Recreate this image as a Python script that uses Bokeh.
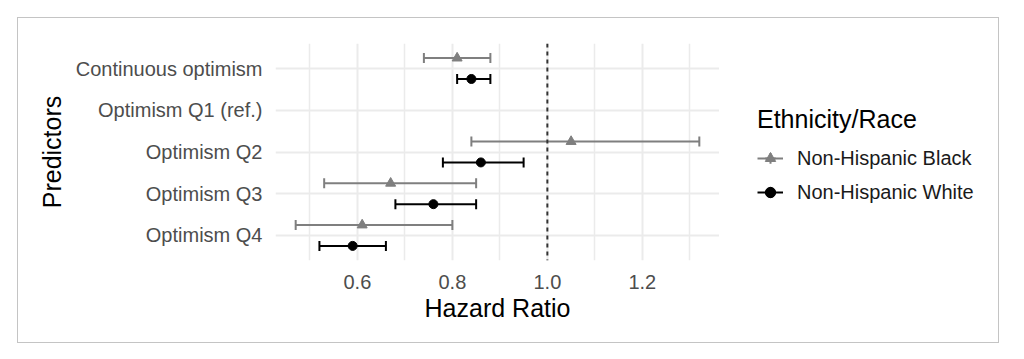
import math
import numpy as np
from bokeh.plotting import figure
from bokeh.layouts import row
from bokeh.models import (Range1d, FixedTicker, Span, Legend, LegendItem,
                          ColumnDataSource, NumeralTickFormatter)
from bokeh.embed import file_html
from bokeh.resources import INLINE

# ---------------- data ----------------
categories = ["Continuous optimism", "Optimism Q1 (ref.)", "Optimism Q2",
              "Optimism Q3", "Optimism Q4"]
groups = ["Non-Hispanic Black", "Non-Hispanic White"]

black_hr = [0.81, float("nan"), 1.05, 0.67, 0.61]
black_lo = [0.74, float("nan"), 0.84, 0.53, 0.47]
black_hi = [0.88, float("nan"), 1.32, 0.85, 0.80]

white_hr = [0.84, float("nan"), 0.86, 0.76, 0.59]
white_lo = [0.81, float("nan"), 0.78, 0.68, 0.52]
white_hi = [0.88, float("nan"), 0.95, 0.85, 0.66]

x_ticks = [0.6, 0.8, 1.0, 1.2]
x_minor = [0.5, 0.7, 0.9, 1.1, 1.3]
ref_line = 1.0

# ---------------- style ----------------
FONT = "Liberation Sans"
colors = ["#7f7f7f", "#000000"]
markers = ["triangle", "circle"]
marker_sizes = [10, 9]
dodge = 0.25
cap = 0.12

n = len(categories)
ypos = [n - i for i in range(n)]

vals = [v for v in black_lo + black_hi + white_lo + white_hi if not math.isnan(v)]
lo, hi = min(vals), max(vals)
pad = (hi - lo) * 0.05

p = figure(width=701, height=324,
           x_range=Range1d(lo - pad, hi + pad),
           y_range=Range1d(0.4, n + 0.6),
           output_backend="svg", toolbar_location=None,
           min_border_left=257, min_border_right=0,
           min_border_top=25, min_border_bottom=82)
p.outline_line_color = None
p.background_fill_color = "white"
p.border_fill_color = "white"

# axes
p.xaxis.ticker = FixedTicker(ticks=x_ticks, minor_ticks=x_minor)
p.xaxis.formatter = NumeralTickFormatter(format="0.0")
p.yaxis.ticker = FixedTicker(ticks=ypos)
p.yaxis.major_label_overrides = {y: c for y, c in zip(ypos, categories)}

for ax in (p.xaxis[0], p.yaxis[0]):
    ax.axis_line_color = None
    ax.major_tick_line_color = None
    ax.minor_tick_line_color = None
    ax.major_tick_in = 0
    ax.major_tick_out = 0
    ax.major_label_text_font = FONT
    ax.major_label_text_font_size = "20px"
    ax.major_label_text_color = "#4d4d4d"
    ax.axis_label_text_font = FONT
    ax.axis_label_text_font_size = "25px"
    ax.axis_label_text_font_style = "normal"
    ax.axis_label_text_color = "#000000"

p.xaxis.axis_label = "Hazard Ratio"
p.yaxis.axis_label = "Predictors"
p.xaxis.major_label_standoff = 10
p.xaxis.axis_label_standoff = 2
p.yaxis.major_label_standoff = 13
p.yaxis.axis_label_standoff = 7

# grids
p.xgrid.grid_line_color = "#ebebeb"
p.xgrid.grid_line_width = 2
p.xgrid.minor_grid_line_color = "#ebebeb"
p.xgrid.minor_grid_line_width = 1.5
p.ygrid.grid_line_color = "#ebebeb"
p.ygrid.grid_line_width = 2

# reference line
p.add_layout(Span(location=ref_line, dimension="height", line_color="#333333",
                  line_width=2, line_dash="4 4"))

# legend panel (separate canvas; its ranges keep the key renderers' data out of view)
pl = figure(width=279, height=324, x_range=Range1d(0, 1), y_range=Range1d(-2, -1),
            output_backend="svg", toolbar_location=None,
            x_axis_location=None, y_axis_location=None,
            min_border_left=0, min_border_right=0,
            min_border_top=0, min_border_bottom=0)
pl.grid.visible = False
pl.outline_line_color = None
pl.background_fill_color = "white"
pl.border_fill_color = "white"

# data marks
series = [(black_hr, black_lo, black_hi, +dodge), (white_hr, white_lo, white_hi, -dodge)]
legend_items = []
for (hr, lo_, hi_, off), col, mk, ms, name in zip(series, colors, markers, marker_sizes, groups):
    y = np.array(ypos, dtype=float) + off
    src = ColumnDataSource(dict(
        hr=np.array(hr, dtype=float), lo=np.array(lo_, dtype=float),
        hi=np.array(hi_, dtype=float), y=y, yb=y - cap, yt=y + cap))
    p.segment(x0="lo", y0="y", x1="hi", y1="y", source=src, line_color=col, line_width=2)
    p.segment(x0="lo", y0="yb", x1="lo", y1="yt", source=src, line_color=col, line_width=2)
    p.segment(x0="hi", y0="yb", x1="hi", y1="yt", source=src, line_color=col, line_width=2)
    p.scatter(x="hr", y="y", source=src, marker=mk, size=ms, fill_color=col, line_color=col)

    # legend key renderers (same data, drawn on the legend canvas outside its view)
    k_seg = pl.segment(x0="lo", y0="y", x1="hi", y1="y", source=src,
                       line_color=col, line_width=2)
    k_cross = pl.scatter(x="hr", y="y", source=src, marker="cross",
                         line_color=col, line_width=2)
    k_pt = pl.scatter(x="hr", y="y", source=src, marker=mk,
                      fill_color=col, line_color=col)
    legend_items.append(LegendItem(label=name, renderers=[k_seg, k_cross, k_pt]))

legend = Legend(items=legend_items, location=(38, 51),
                title="Ethnicity/Race",
                title_text_font=FONT, title_text_font_size="25px",
                title_text_font_style="normal", title_text_color="#000000",
                title_standoff=7,
                label_text_font=FONT, label_text_font_size="20px",
                label_text_color="#1a1a1a",
                glyph_width=26, glyph_height=34, label_height=34,
                label_standoff=14, spacing=0, padding=0, margin=0,
                border_line_color=None, background_fill_alpha=0)
pl.add_layout(legend)

layout = row(p, pl)
layout.margin = (18, 0, 0, 18)
layout.styles = {"outline": "1px solid #c4c4c4"}

open("out.html", "w").write(file_html(layout, INLINE))
